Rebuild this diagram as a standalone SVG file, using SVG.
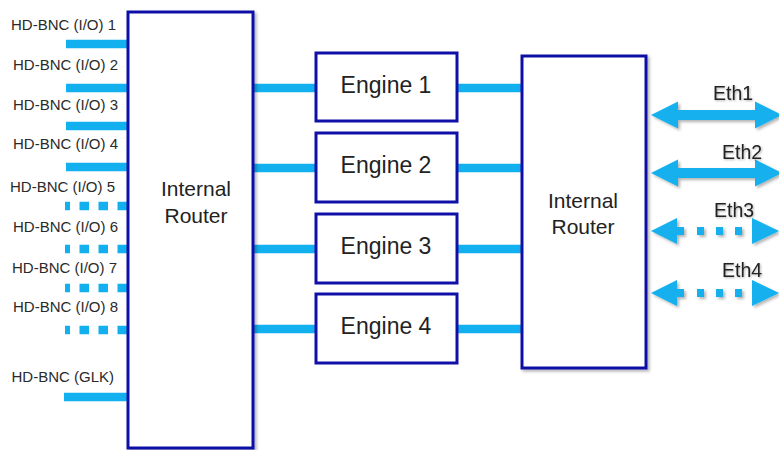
<svg xmlns="http://www.w3.org/2000/svg" width="779" height="450" viewBox="0 0 779 450">
<defs>
<style>
.box{fill:#fff;stroke:#1010a8;stroke-width:3}
.lbl{font-family:"Liberation Sans",Arial,sans-serif;font-size:15px;fill:#2a2a2a;text-anchor:end}
.rt{font-family:"Liberation Sans",Arial,sans-serif;font-size:21px;fill:#222;text-anchor:middle}
.eng{font-family:"Liberation Sans",Arial,sans-serif;font-size:23px;fill:#222;text-anchor:middle}
.eth{font-family:"Liberation Sans",Arial,sans-serif;font-size:19.5px;fill:#222}
.ln{stroke:#12b0ee;stroke-width:8.5;fill:none}
.dl{stroke:#12b0ee;stroke-width:8.5;fill:none;stroke-dasharray:9.5 9.5}
.ar{fill:#12b0ee}
</style>
<filter id="sh" x="-10%" y="-10%" width="130%" height="130%">
<feDropShadow dx="2" dy="2" stdDeviation="1.5" flood-color="#000" flood-opacity="0.3"/>
</filter>
<filter id="tsh" x="-20%" y="-20%" width="150%" height="150%">
<feDropShadow dx="1" dy="1" stdDeviation="1" flood-color="#000" flood-opacity="0.3"/>
</filter>
</defs>
<rect width="779" height="450" fill="#fff"/>

<g id="connectors">
<line class="ln" x1="66" y1="44" x2="128" y2="44"/>
<line class="ln" x1="66" y1="88" x2="128" y2="88"/>
<line class="ln" x1="66" y1="126" x2="128" y2="126"/>
<line class="ln" x1="66" y1="167" x2="128" y2="167"/>
<line class="dl" x1="127" y1="206" x2="65" y2="206"/>
<line class="dl" x1="127" y1="249" x2="65" y2="249"/>
<line class="dl" x1="127" y1="288" x2="65" y2="288"/>
<line class="dl" x1="127" y1="330" x2="65" y2="330"/>
<line class="ln" x1="64" y1="397" x2="128" y2="397"/>

<line class="ln" x1="253" y1="88" x2="316" y2="88"/>
<line class="ln" x1="253" y1="168" x2="316" y2="168"/>
<line class="ln" x1="253" y1="249" x2="316" y2="249"/>
<line class="ln" x1="253" y1="329" x2="316" y2="329"/>
<line class="ln" x1="457" y1="88" x2="522" y2="88"/>
<line class="ln" x1="457" y1="168" x2="522" y2="168"/>
<line class="ln" x1="457" y1="249" x2="522" y2="249"/>
<line class="ln" x1="457" y1="329" x2="522" y2="329"/>

<g filter="url(#sh)">
<polygon class="ar" points="651,115 678,101.5 678,110 755,110 755,101.5 782,115 755,128.5 755,120 678,120 678,128.5"/>
<polygon class="ar" points="651,173 678,159.5 678,168 755,168 755,159.5 782,173 755,186.5 755,178 678,178 678,186.5"/>
<g>
<polygon class="ar" points="651,231 677,218 677,244"/>
<rect class="ar" x="677" y="227" width="7" height="8"/>
<rect class="ar" x="697" y="227" width="7" height="8"/>
<rect class="ar" x="716" y="227" width="7" height="8"/>
<rect class="ar" x="735" y="227" width="7" height="8"/>
<polygon class="ar" points="752,218 779,231 752,244"/>
</g>
<g>
<polygon class="ar" points="651,293 677,280 677,306"/>
<rect class="ar" x="677" y="289" width="7" height="8"/>
<rect class="ar" x="697" y="289" width="7" height="8"/>
<rect class="ar" x="716" y="289" width="7" height="8"/>
<rect class="ar" x="735" y="289" width="7" height="8"/>
<polygon class="ar" points="752,280 779,293 752,306"/>
</g>
</g>
</g>

<g id="labels-left">
<text class="lbl" x="116" y="30">HD-BNC (I/O) 1</text>
<text class="lbl" x="118" y="70">HD-BNC (I/O) 2</text>
<text class="lbl" x="118" y="110">HD-BNC (I/O) 3</text>
<text class="lbl" x="118" y="149">HD-BNC (I/O) 4</text>
<text class="lbl" x="115" y="192">HD-BNC (I/O) 5</text>
<text class="lbl" x="118" y="232">HD-BNC (I/O) 6</text>
<text class="lbl" x="117" y="273">HD-BNC (I/O) 7</text>
<text class="lbl" x="118" y="312">HD-BNC (I/O) 8</text>
<text class="lbl" x="114" y="382">HD-BNC (GLK)</text>
</g>

<g id="router-left">
<rect class="box" x="128" y="12" width="125" height="436" filter="url(#sh)"/>
<text class="rt" x="196" y="196">Internal</text>
<text class="rt" x="196" y="222.5">Router</text>
</g>

<g id="engine1">
<rect class="box" x="316" y="53" width="141" height="68"/>
<text class="eng" x="386" y="93">Engine 1</text>
</g>
<g id="engine2">
<rect class="box" x="316" y="133" width="141" height="69"/>
<text class="eng" x="386" y="173">Engine 2</text>
</g>
<g id="engine3">
<rect class="box" x="316" y="214" width="141" height="69"/>
<text class="eng" x="386" y="254">Engine 3</text>
</g>
<g id="engine4">
<rect class="box" x="316" y="294" width="141" height="69"/>
<text class="eng" x="386" y="334">Engine 4</text>
</g>

<g id="router-right">
<rect class="box" x="522" y="56" width="124" height="312" filter="url(#sh)"/>
<text class="rt" x="583" y="208">Internal</text>
<text class="rt" x="583" y="233.5">Router</text>
</g>

<g id="eth-labels" filter="url(#tsh)">
<text class="eth" x="713" y="100">Eth1</text>
<text class="eth" x="722" y="159">Eth2</text>
<text class="eth" x="714" y="217">Eth3</text>
<text class="eth" x="722" y="277">Eth4</text>
</g>
</svg>
